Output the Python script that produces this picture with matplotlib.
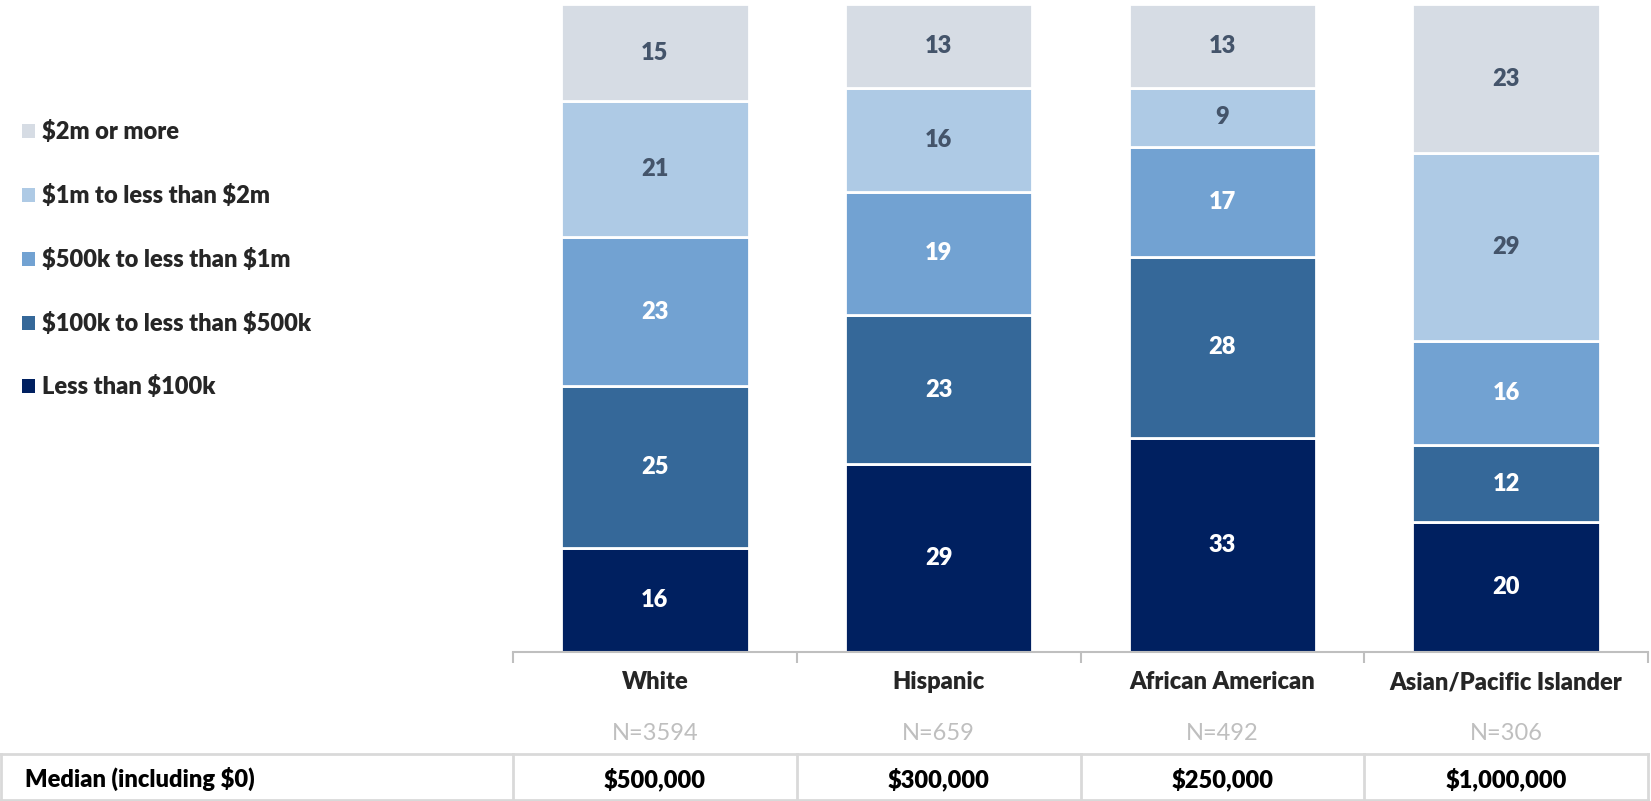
import matplotlib
matplotlib.use("Agg")
import matplotlib.pyplot as plt
from matplotlib.lines import Line2D
from matplotlib.patches import Rectangle
import matplotlib.transforms as mtransforms

plt.rcParams['font.family'] = ['Lato', 'DejaVu Sans']
plt.rcParams['text.parse_math'] = False

categories = ["White", "Hispanic", "African American", "Asian/Pacific Islander"]
sample_sizes = ["N=3594", "N=659", "N=492", "N=306"]
medians = ["$500,000", "$300,000", "$250,000", "$1,000,000"]
series_names = ["Less than $100k", "$100k to less than $500k", "$500k to less than $1m",
                "$1m to less than $2m", "$2m or more"]
less_100k = [16, 29, 33, 20]
k100_500k = [25, 23, 28, 12]
k500_1m = [23, 19, 17, 16]
m1_2m = [21, 16, 9, 29]
m2_plus = [15, 13, 13, 23]
series_values = [less_100k, k100_500k, k500_1m, m1_2m, m2_plus]

colors = ["#002060", "#356899", "#72A2D2", "#AECAE5", "#D6DCE4"]
label_colors = ["white", "white", "white", "#44546A", "#44546A"]

FS = 17
W, H = 1651, 801
fig = plt.figure(figsize=(W / 100, H / 100), dpi=100)
ax = fig.add_axes([513 / W, 1 - 652 / H, (1648 - 513) / W, (652 - 4) / H])

x = list(range(len(categories)))
bottoms = [0] * len(categories)
for vals, name, col, lc in zip(series_values, series_names, colors, label_colors):
    ax.bar(x, vals, bottom=bottoms, width=0.66, color=col,
           edgecolor="white", linewidth=2, label=name)
    for xi, v, b in zip(x, vals, bottoms):
        ax.text(xi, b + v / 2, f"{v}", ha="center", va="center", color=lc,
                fontsize=FS, fontweight="heavy")
    bottoms = [b + v for b, v in zip(bottoms, vals)]

ax.set_xlim(-0.5, len(categories) - 0.5)
ax.set_ylim(0, 100)
ax.set_yticks([])
for s in ["top", "right", "left"]:
    ax.spines[s].set_visible(False)
ax.spines["bottom"].set_color("#BFBFBF")
ax.spines["bottom"].set_linewidth(1.5)
ax.set_xticks(x)
ax.set_xticklabels(categories, fontsize=FS, fontweight="heavy", color="#262626")
ax.tick_params(axis="x", which="major", length=0, pad=14)
ax.set_xticks([i - 0.5 for i in range(len(categories) + 1)], minor=True)
ax.tick_params(axis="x", which="minor", length=8, color="#BFBFBF", width=1.5)

# legend (manual, top entry = last series)
leg_rows_px = [131, 195, 259, 323, 386]
for name, col, ypx in zip(series_names[::-1], colors[::-1], leg_rows_px):
    sq = 13
    fig.add_artist(Rectangle((22 / W, 1 - (ypx + sq / 2) / H), sq / W, sq / H,
                             transform=fig.transFigure, facecolor=col, edgecolor="none"))
    fig.text(42 / W, 1 - ypx / H, name, ha="left", va="center", fontsize=FS,
             fontweight="heavy", color="#262626")

# N labels and median table
tr = mtransforms.blended_transform_factory(ax.transData, fig.transFigure)
for xi, n in zip(x, sample_sizes):
    fig.text(xi, 1 - 733 / H, n, transform=tr, ha="center", va="center",
             fontsize=FS, color="#BFBFBF")
for xi, m in zip(x, medians):
    fig.text(xi, 1 - 779 / H, m, transform=tr, ha="center", va="center",
             fontsize=FS, fontweight="heavy", color="black")
fig.text(25 / W, 1 - 779 / H, "Median (including $0)", ha="left", va="center",
         fontsize=FS, fontweight="heavy", color="black")

grid_col = "#D9D9D9"
y_top = 1 - 754 / H
y_bot = 1 - 800 / H
x_right = 1648 / W
fig.add_artist(Line2D([0, x_right], [y_top, y_top], color=grid_col, lw=2, transform=fig.transFigure))
fig.add_artist(Line2D([0, x_right], [y_bot, y_bot], color=grid_col, lw=2, transform=fig.transFigure))
fig.add_artist(Line2D([1 / W, 1 / W], [y_bot, y_top], color=grid_col, lw=2, transform=fig.transFigure))
for i in range(len(categories) + 1):
    fig.add_artist(Line2D([i - 0.5, i - 0.5], [y_bot, y_top], color=grid_col, lw=2, transform=tr))

fig.savefig("out.png", dpi=100)
